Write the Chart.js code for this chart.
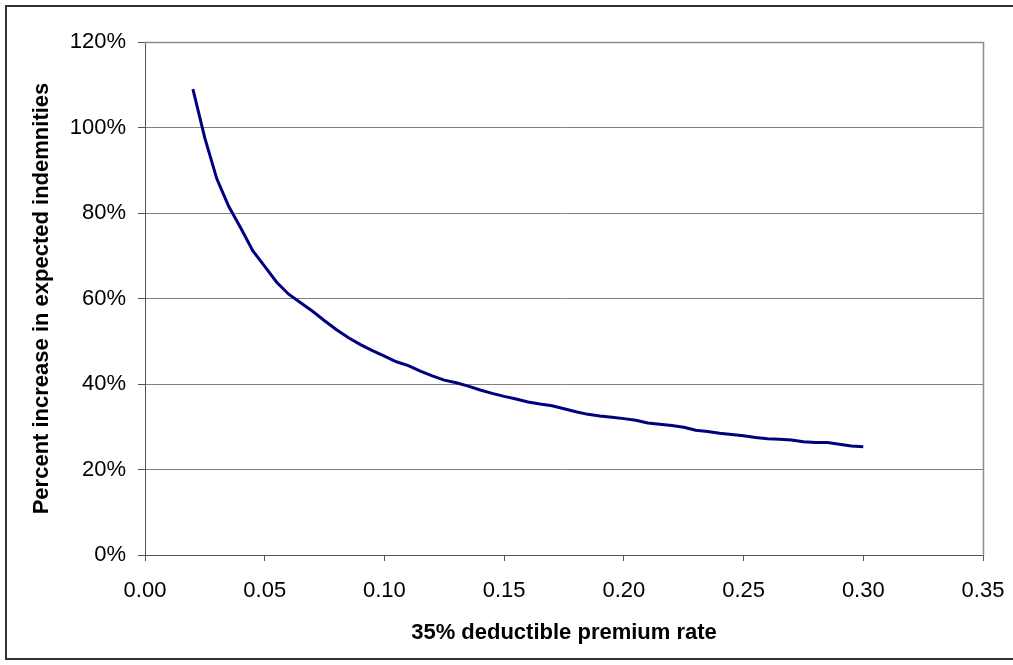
<!DOCTYPE html>
<html lang="en">
<head>
  <meta charset="UTF-8" />
  <title>Percent increase in expected indemnities</title>
  <script src="https://cdn.jsdelivr.net/npm/chart.js"></script>
  <style>
    html, body { margin: 0; padding: 0; background: #fff; }
    #wrap { width: 1013px; height: 665px; position: relative; }
  </style>
</head>
<body>
  <div id="wrap">
    <canvas id="grafico" width="1013" height="665"></canvas>
  </div>

  <script>
    // premium rate (x) and percent increase (y)
    const premiumRate = [
      0.020, 0.025, 0.030, 0.035, 0.040, 0.045, 0.050, 0.055, 0.060, 0.065,
      0.070, 0.075, 0.080, 0.085, 0.090, 0.095, 0.100, 0.105, 0.110, 0.115,
      0.120, 0.125, 0.130, 0.135, 0.140, 0.145, 0.150, 0.155, 0.160, 0.165,
      0.170, 0.175, 0.180, 0.185, 0.190, 0.195, 0.200, 0.205, 0.210, 0.215,
      0.220, 0.225, 0.230, 0.235, 0.240, 0.245, 0.250, 0.255, 0.260, 0.265,
      0.270, 0.275, 0.280, 0.285, 0.290, 0.295, 0.300
    ];
    const pctIncrease = [
      109.0, 97.5, 88.0, 81.5, 76.5, 71.2, 67.5, 63.8, 61.0, 59.0,
      57.0, 54.8, 52.7, 50.8, 49.2, 47.8, 46.5, 45.2, 44.3, 43.0,
      41.9, 40.9, 40.3, 39.5, 38.6, 37.8, 37.1, 36.5, 35.8, 35.3,
      34.9, 34.2, 33.5, 32.9, 32.5, 32.2, 31.9, 31.5, 30.9, 30.6,
      30.3, 29.9, 29.2, 28.9, 28.5, 28.2, 27.9, 27.5, 27.2, 27.1,
      26.9, 26.5, 26.3, 26.3, 25.9, 25.5, 25.3
    ];

    const xTitulo = '35% deductible premium rate';
    const yTitulo = 'Percent increase in expected indemnities';

    const fonte = 'Liberation Sans, Arial, sans-serif';

    // white background, outer frame and plot-area border
    const molduraPlugin = {
      id: 'moldura',
      beforeDraw(chart) {
        const ctx = chart.ctx;
        ctx.save();
        ctx.fillStyle = '#fff';
        ctx.fillRect(0, 0, chart.width, chart.height);
        ctx.restore();
      },
      afterDatasetsDraw(chart) {
        const ctx = chart.ctx;
        const a = chart.chartArea;
        ctx.save();
        ctx.strokeStyle = '#8c8c8c';
        ctx.lineWidth = 1.5;
        ctx.beginPath();
        ctx.moveTo(Math.round(a.left), Math.round(a.top) + 0.5);
        ctx.lineTo(Math.round(a.right) + 0.5, Math.round(a.top) + 0.5);
        ctx.lineTo(Math.round(a.right) + 0.5, Math.round(a.bottom) + 0.5);
        ctx.stroke();
        // outer frame (right side runs off the picture)
        ctx.strokeStyle = '#333';
        ctx.lineWidth = 2;
        ctx.beginPath();
        ctx.moveTo(chart.width + 2, 6);
        ctx.lineTo(6, 6);
        ctx.lineTo(6, 659);
        ctx.lineTo(chart.width + 2, 659);
        ctx.stroke();
        ctx.restore();
      }
    };

    const grafico = new Chart(document.getElementById('grafico'), {
      type: 'line',
      data: {
        datasets: [{
          data: premiumRate.map((r, i) => ({ x: r, y: pctIncrease[i] })),
          borderColor: '#000080',
          borderWidth: 3,
          pointRadius: 0,
          tension: 0,
          fill: false
        }]
      },
      options: {
        responsive: false,
        animation: false,
        layout: { padding: { left: 0, top: 42, right: 30, bottom: 0 } },
        plugins: {
          legend: { display: false },
          tooltip: { enabled: false }
        },
        scales: {
          x: {
            type: 'linear',
            min: 0,
            max: 0.35,
            afterFit(scale) {
              scale.height = 110;
              scale.paddingLeft = 0;
              scale.paddingRight = 0;
            },
            ticks: {
              stepSize: 0.05,
              color: '#000',
              padding: 17,
              font: { family: fonte, size: 22 },
              maxRotation: 0,
              callback: v => v.toFixed(2)
            },
            grid: {
              drawOnChartArea: false,
              drawTicks: true,
              tickLength: 6,
              color: '#555'
            },
            border: { color: '#555', width: 1 },
            title: {
              display: true,
              text: xTitulo,
              color: '#000',
              font: { family: fonte, size: 22, weight: 'bold' },
              padding: { top: 0, bottom: 19 }
            }
          },
          y: {
            min: 0,
            max: 120,
            afterFit(scale) { scale.width = 145; },
            ticks: {
              stepSize: 20,
              color: '#000',
              padding: 12,
              font: { family: fonte, size: 22 },
              callback: v => v + '%'
            },
            grid: {
              color: '#808080',
              lineWidth: 1,
              tickLength: 7,
              tickColor: '#555'
            },
            border: { color: '#555', width: 1 },
            title: {
              display: true,
              text: yTitulo,
              color: '#000',
              font: { family: fonte, size: 22, weight: 'bold' },
              padding: { top: 29, bottom: 0 }
            }
          }
        }
      },
      plugins: [molduraPlugin]
    });
  </script>
</body>
</html>
